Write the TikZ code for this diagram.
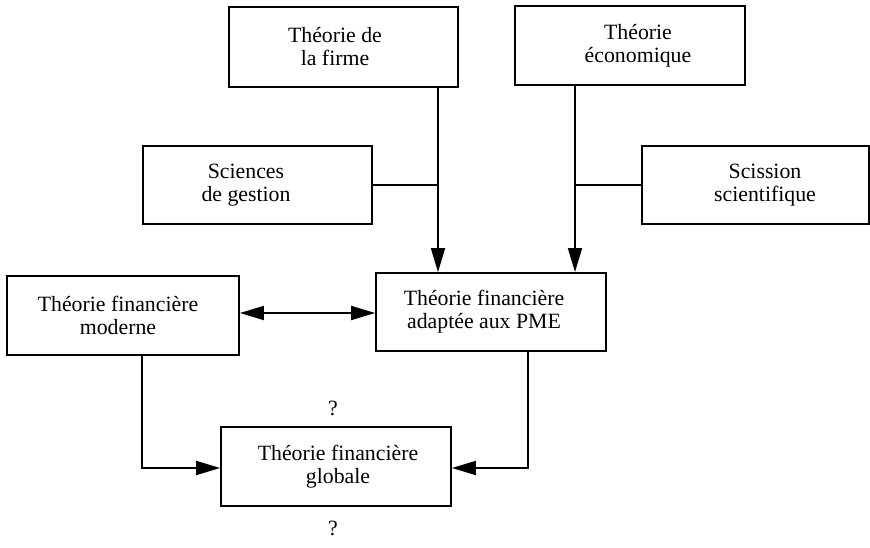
\documentclass[tikz,border=0pt]{standalone}
\usepackage{fontspec}
\setmainfont{Liberation Serif}
\usetikzlibrary{arrows.meta}
\begin{document}
\begin{tikzpicture}[x=1pt,y=-1pt,
  box/.style={draw, line width=1.8pt, inner sep=0pt, minimum width=230pt, minimum height=79pt},
  txt/.style={align=center, font=\fontsize{21.8}{23}\selectfont, inner sep=0pt},
  conn/.style={line width=1.8pt},
  tipshape/.tip={Triangle[length=24pt,width=14pt]},
  arr/.style={conn, -tipshape},
  darr/.style={conn, tipshape-tipshape}]
\useasboundingbox (0,0) rectangle (870,548);
% boxes
\node[box, minimum width=229pt, minimum height=80pt] (b1) at (343.5,47) {};
\node[box, minimum width=230pt, minimum height=79pt] (b2) at (630,45.5) {};
\node[box, minimum width=229pt, minimum height=78pt] (b3) at (257.5,185) {};
\node[box, minimum width=227pt, minimum height=78pt] (b4) at (755.5,185) {};
\node[box, minimum width=232pt, minimum height=79pt] (b5) at (123,315.5) {};
\node[box, minimum width=230pt, minimum height=78pt] (b6) at (491,312) {};
\node[box, minimum width=230pt, minimum height=79pt] (b7) at (336,466.5) {};
% texts
\node[txt] (t1) at (335,47) {Théorie de\\la firme};
\node[txt] (t2) at (638,45.5) {Théorie\\économique};
\node[txt] (t3) at (246,185) {Sciences\\de gestion};
\node[txt] (t4) at (765,185) {Scission\\scientifique};
\node[txt] (t5) at (118,315.5) {Théorie financière\\moderne};
\node[txt] (t6) at (484,312) {Théorie financière\\adaptée aux PME};
\node[txt] (t7) at (338,466.5) {Théorie financière\\globale};
\node[txt] (q1) at (333,408) {?};
\node[txt] (q2) at (333,528) {?};
% junctions
\coordinate (j1) at (438,185);
\coordinate (j2) at (575,185);
\coordinate (k1) at (142,0);
\coordinate (k2) at (528,0);
% connectors
\draw[arr] (b1.south -| j1) -- (b6.north -| j1);
\draw[conn] (b3.east) -- (j1);
\draw[arr] (b2.south -| j2) -- (b6.north -| j2);
\draw[conn] (b4.west) -- (j2);
\draw[darr] (b5.east |- 0,313) -- (b6.west |- 0,313);
\draw[arr] (b5.south -| k1) |- (b7.west |- 0,468);
\draw[arr] (b6.south -| k2) |- (b7.east |- 0,468);
\end{tikzpicture}
\end{document}
